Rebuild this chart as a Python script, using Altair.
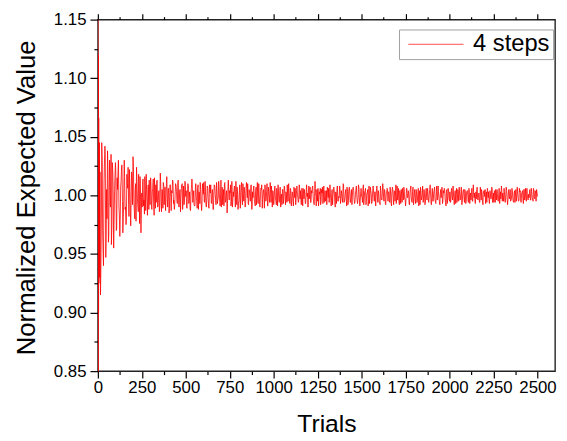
import altair as alt
import pandas as pd

# ---- data (deviation from 1, in thousandths) ----
early_trials = [1, 2, 3, 4, 5, 6, 7, 8, 9, 10]
early_dev = [400, -400, 120, -100, 66, -75, 30, -60, 45, -70]

# trials 15, 20, ..., 2500
dev_a = [
    -85, -20, 30, -50, 10, 42, -53, 5,
    38, -40, 12, -8, 35, -25, 20, -45, 3, 28,
    -30, 15, 22, -10, -35, 8, 25, -5, -18, 30,
    -12, -25, 18, 6, -8, 22, -15, 3, 14, 33,
    -6, -20, 10, 24, -3, -14, 8, 16, -32, 2,
    12, -9, -16, 4, 18, -5, 7, -12, -2, 15,
    -8, 3, 14, -17, -4, 9, 12, -10, 1, -14,
    19, -6, 5, -11, 8, 2, -13, 10, -3, 6,
    -15, 9, -2, 4, 13, -7, -12, 3, 8, -5,
    11, -9, 2, -14, 6, 10, -4, -8, 12, -1,
    -10, 5, 8, -3, -12, 2, 14, -6, 4, -9,
    7, -2, -11, 9, 3, -7, 5, -13, 10, 1,
    -5, 12, -8, -1, 6, -10, 9, 2, -6, 4,
    -12, 3, 8, -4, 11, -7, -2, 6, -9, 13,
    -3, -8, 5, 10, -6, 2, -15, 7, -1, 4,
    9, -5, -10, 3, 6, -2, 12, -8, 1, -6,
    4, -11, 7, -3, 10, -5, 2, -9, 11, -2,
    -7, 5, -1, 8, -12, 3, 6, -4, -9, 7,
    2, -6, 10, -8, 1, 5, -11, 4, -3, 9,
    -5, 3, -9, 7, -2, 11, -6, 1, 4, -8,
    6, -3, -8, 2, 9, -5, 4, -10, 1, 5,
    -7, 8, -2, 3, -6, -1, 10, -4, 6, -9,
    3, -5, 7, -2, -8, 4, 1, -6, 9, -3,
    -4, 6, -9, 2, 5, -7, 3, -1, -10, 8,
    1, -6, 4, 7, -3, -8, 12, -2, 5, -5,
    -9, 3, 6, -4, 2, -7, 8, -1, -5, 4,
    7, -2, -6, 9, -4, 1, -8, 5, 3, -10,
    2, 6, -5, -1, 8, -7, 4, -3, 10, -6,
    -2, 5, -9, 3, -4, 7, -6, 2, -8, 6,
    4, -7, 1, 8, -5, -2, 6, -9, 3, -1,
    -6, 9, -3, 4, -8, 2, 5, -4, -7, 7,
    1, -5, 8, -2, 3, -9, 6, -1, 4, -6,
    -8, 3, -4, 10, -2, 5, -7, 1, 6, -5,
    3, -6, 2, -9, 7, -3, 4, -5, 9, -2,
    -4, 6, -8, 1, 5, -6, 2, 7, -3, -9,
    6, -2, 4, -7, 1, 8, -5, 3, -8, 2,
    -3, 5, -6, 2, -9, 4, 7, -4, 1, -6,
    5, -8, 3, -2, 6, -5, 1, 9, -7, 2,
    -5, 2, 7, -6, 3, -4, 8, -3, -8, 5,
    1, -7, 4, 6, -3, -9, 5, -1, 3, -5,
    -6, 4, -2, 8, -5, 2, -7, 6, -3, 1,
    7, -4, 3, -8, 1, 5, -6, 2, -5, 4,
    -3, 6, -7, 2, 4, -5, 9, -2, -6, 3,
    5, -3, 1, -6, 7, -4, 2, -8, 4, -1,
    -7, 3, 6, -2, -5, 4, -3, 7, -6, 2,
    4, -6, 2, 5, -4, 1, -7, 3, 8, -5,
    -2, 6, -5, 1, 4, -8, 3, -3, 5, -4,
    6, -3, -6, 4, 2, -5, 7, -2, -4, 3,
    -5, 2, 4, -7, 5, -1, -4, 6, -3, 1,
    3, -4, 6, -2, -5, 4, -3, 2, 5, -1,
]

# trials 12, 17, ..., 2497
dev_b = [
    20, -65, 45, -30, -60, 25, 35, -40,
    -20, 25, -35, 30, -10, -42, 28, 5, -25, 15,
    20, -28, 5, 30, -15, -22, 12, 26, -32, -4,
    16, -10, -22, 10, 24, -18, 6, -26, 20, -8,
    25, -12, 4, -22, 14, -8, 18, -24, 6, -16,
    -10, 14, -4, 16, -13, 5, -17, 9, 13, -8,
    10, -12, 6, -4, 15, -11, -6, 13, -9, 4,
    -9, 12, -14, 3, 11, -8, 7, -5, 16, -10,
    6, -11, 9, -13, 2, 12, -4, -9, 10, 3,
    -7, 13, -10, 5, -3, 9, -12, 8, -6, 11,
    4, -11, 10, -7, 3, -13, 6, 9, -2, -8,
    -9, 10, -4, 6, -12, 2, 11, -5, -8, 7,
    11, -6, 3, -10, 8, -2, -11, 5, 9, -7,
    5, -12, 9, 1, -8, 6, -4, 12, -3, -6,
    -10, 7, -2, -9, 11, -5, 4, -7, 13, -4,
    2, -9, 12, -6, -1, 8, -10, 3, 7, -12,
    -6, 9, -3, 11, -8, 1, 7, -10, 4, 6,
    10, -8, 4, -5, 9, -11, -2, 8, -6, 3,
    -8, 11, -7, 2, -10, 6, 9, -3, 5, -11,
    7, -4, 10, -9, 3, -6, 5, 8, -10, 2,
    -5, 8, -4, 6, -9, 2, -6, 7, -3, -8,
    5, -3, 7, -8, 1, 9, -5, 3, -7, 4,
    -6, 2, -9, 5, 6, -4, 8, -2, -5, 7,
    4, -8, 3, 6, -3, 1, -7, 9, 2, -5,
    -3, 7, -6, 2, 8, -5, -1, 6, -9, 3,
    6, -4, 1, -8, 5, 7, -3, -6, 4, -2,
    -8, 4, 6, -3, 2, -9, 5, -1, 7, -4,
    3, -7, 8, -5, -2, 6, -4, 1, -6, 9,
    -5, 2, -3, 7, -8, 4, 3, -6, 5, -1,
    7, -3, -6, 4, 1, -7, 9, -2, -4, 6,
    -2, 5, -8, 3, 6, -4, 2, -9, 8, -3,
    4, -7, 1, 6, -5, 3, -2, 8, -6, 2,
    -6, 8, -3, -1, 7, -5, 4, -8, 2, 5,
    3, -4, 7, -6, 2, 5, -8, 3, -1, -7,
    8, -2, -5, 4, -7, 2, 6, -4, 5, -3,
    -4, 6, -2, 3, -8, 5, -1, -6, 7, -5,
    5, -7, 3, -4, 6, -2, -8, 4, -3, 8,
    -3, 2, -7, 6, -4, 3, -6, 5, 2, -8,
    6, -5, 4, -3, -7, 8, -2, 3, -5, 1,
    -2, 7, -5, 2, 5, -6, 3, -7, 6, -3,
    3, -5, 6, -4, 2, -8, 4, 1, -6, 5,
    -5, 2, -3, 7, -6, 4, -2, 5, -7, 3,
    4, -6, 5, -1, -4, 6, -5, 3, 2, -7,
    -3, 7, -4, 2, -6, 3, 5, -5, 1, 4,
    5, -2, -6, 4, 3, -7, 2, -3, 6, -4,
    -6, 3, 5, -4, 1, -5, 6, -2, -3, 4,
    2, -5, 3, -6, 7, -2, -4, 5, -1, -5,
    -3, 4, -5, 2, -6, 5, -2, 3, -5, 6,
    4, -6, 2, -3, 5, -4, 6, -5, 1, -4,
    -2, 5, -4, 3, -3, 6, -2, 4, -5, 3,
]

trials_a = list(range(15, 2501, 5))
trials_b = list(range(12, 2498, 5))
trials = early_trials + trials_a + trials_b
dev = early_dev + dev_a + dev_b
values = [1 + d / 1000 for d in dev]

series_name = "4 steps"
x_major = [0, 250, 500, 750, 1000, 1250, 1500, 1750, 2000, 2250, 2500]
x_minor = [125, 375, 625, 875, 1125, 1375, 1625, 1875, 2125, 2375]
y_major = [0.85, 0.90, 0.95, 1.00, 1.05, 1.10, 1.15]
y_minor = [0.875, 0.925, 0.975, 1.025, 1.075, 1.125]

df = pd.DataFrame({"Trials": trials, "value": values, "series": series_name})
df = df.sort_values("Trials").reset_index(drop=True)
ax_df = pd.DataFrame({"Trials": [1000], "value": [1.0]})

FONT = "Liberation Sans"
xscale = alt.Scale(domain=[0, 2600], nice=False, zero=False)
yscale = alt.Scale(domain=[0.85, 1.15], nice=False, zero=False)

common = dict(grid=False, domain=False, tickColor="#000000", tickWidth=1.2,
              labelFont=FONT, labelColor="#000000", labelFlush=False,
              labelOverlap=False)

line = alt.Chart(df).mark_line(strokeWidth=0.8, clip=True).encode(
    x=alt.X("Trials:Q", scale=xscale, axis=alt.Axis(
        orient="bottom", values=x_major, format="d", tickSize=7,
        labelFontSize=17, labelPadding=2,
        title="Trials", titleFont=FONT, titleFontSize=25,
        titleFontWeight="normal", titleColor="#000000",
        titleY=61, titleBaseline="alphabetic", **common)),
    y=alt.Y("value:Q", scale=yscale, axis=alt.Axis(
        orient="left", values=y_major, format=".2f", tickSize=8,
        labelFontSize=17, labelPadding=4,
        title="Normalized Expected Value", titleFont=FONT, titleFontSize=26,
        titleFontWeight="normal", titleColor="#000000",
        titleX=-64, titleY=180, titleBaseline="alphabetic", **common)),
    color=alt.Color("series:N", scale=alt.Scale(range=["#ff0000"]),
                    legend=alt.Legend(
                        orient="none", legendX=305, legendY=10,
                        title=None, symbolType="M-1,0H9", symbolSize=125,
                        symbolStrokeWidth=0.7, labelFont=FONT,
                        labelFontSize=24, labelColor="#000000",
                        labelOffset=48, padding=3, strokeColor="#a0a0a0",
                        fillColor="#ffffff")),
)

top_major = alt.Chart(ax_df).mark_point(opacity=0).encode(
    x=alt.X("Trials:Q", scale=xscale, axis=alt.Axis(
        orient="top", values=x_major, tickSize=6, labels=False, title=None, **common)),
    y=alt.Y("value:Q", scale=yscale, axis=alt.Axis(
        orient="left", values=y_minor, tickSize=4, labels=False, title=None, **common)),
)

bottom_minor = alt.Chart(ax_df).mark_point(opacity=0).encode(
    x=alt.X("Trials:Q", scale=xscale, axis=alt.Axis(
        orient="bottom", values=x_minor, tickSize=3.5, labels=False, title=None, **common)),
    y=alt.Y("value:Q", scale=yscale, axis=None),
)

top_minor = alt.Chart(ax_df).mark_point(opacity=0).encode(
    x=alt.X("Trials:Q", scale=xscale, axis=alt.Axis(
        orient="top", values=x_minor, tickSize=3, labels=False, title=None, **common)),
    y=alt.Y("value:Q", scale=yscale, axis=None),
)

chart = alt.layer(line, top_major, bottom_minor, top_minor).resolve_axis(
    x="independent", y="independent"
).properties(
    width=463, height=356,
    autosize=alt.AutoSizeParams(type="none"),
    padding={"left": 91, "top": 9, "right": 4, "bottom": 68},
    background="#ffffff",
).configure_view(
    stroke="#222222", strokeWidth=1.4
)

chart.save("out.html", embed_options={"renderer": "svg", "actions": False})
